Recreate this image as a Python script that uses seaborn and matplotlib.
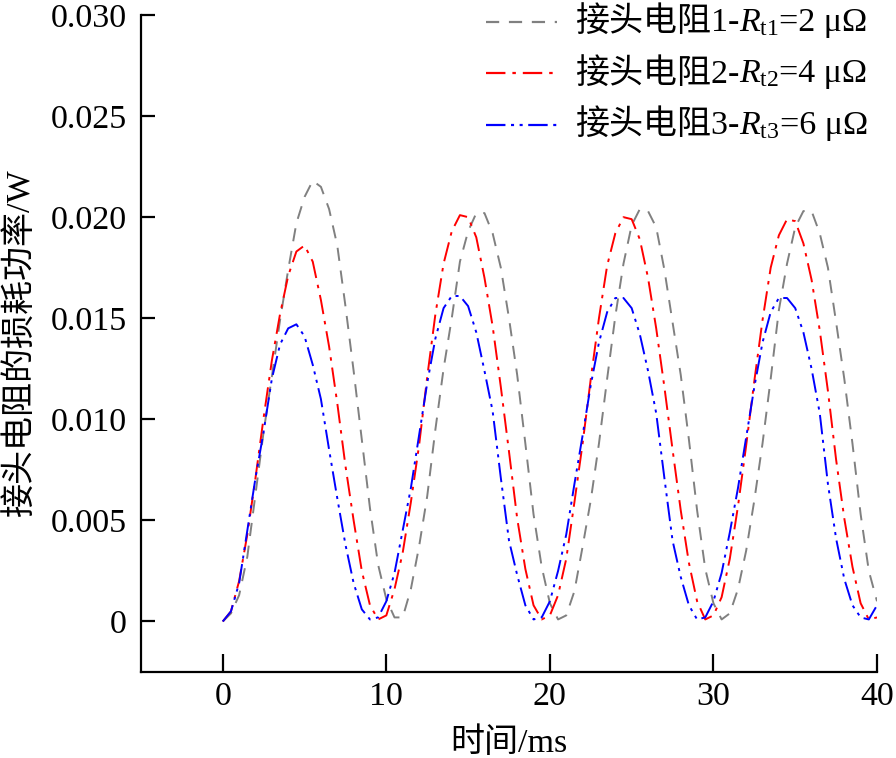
import matplotlib
matplotlib.use("Agg")
import matplotlib.pyplot as plt
import seaborn as sns
import pandas as pd
from matplotlib.lines import Line2D
from matplotlib.offsetbox import (AnchoredOffsetbox, DrawingArea, HPacker,
                                  TextArea, VPacker)

# ---------------- data ----------------
time_ms = [0.0, 0.5, 1.0, 1.5, 2.0, 2.5, 3.0, 3.5, 4.0, 4.5,
           5.0, 5.5, 6.0, 6.5, 7.0, 7.5, 8.0, 8.5, 9.0, 9.5,
           10.0, 10.5, 11.0, 11.5, 12.0, 12.5, 13.0, 13.5, 14.0, 14.5,
           15.0, 15.5, 16.0, 16.5, 17.0, 17.5, 18.0, 18.5, 19.0, 19.5,
           20.0, 20.5, 21.0, 21.5, 22.0, 22.5, 23.0, 23.5, 24.0, 24.5,
           25.0, 25.5, 26.0, 26.5, 27.0, 27.5, 28.0, 28.5, 29.0, 29.5,
           30.0, 30.5, 31.0, 31.5, 32.0, 32.5, 33.0, 33.5, 34.0, 34.5,
           35.0, 35.5, 36.0, 36.5, 37.0, 37.5, 38.0, 38.5, 39.0, 39.5,
           40.0]

p_rt1 = [0.0000, 0.0004, 0.0013, 0.0032, 0.0063, 0.0094, 0.0121, 0.0149, 0.0174, 0.0197,
         0.0210, 0.0218, 0.0215, 0.0204, 0.0186, 0.0156, 0.0124, 0.0090, 0.0056, 0.0028,
         0.0011, 0.0002, 0.0002, 0.0016, 0.0037, 0.0062, 0.0095, 0.0125, 0.0150, 0.0178,
         0.0193, 0.0202, 0.0202, 0.0192, 0.0175, 0.0150, 0.0122, 0.0088, 0.0053, 0.0027,
         0.0009, 0.0001, 0.0003, 0.0015, 0.0037, 0.0060, 0.0088, 0.0120, 0.0151, 0.0177,
         0.0196, 0.0204, 0.0203, 0.0195, 0.0174, 0.0148, 0.0122, 0.0090, 0.0055, 0.0026,
         0.0009, 0.0001, 0.0004, 0.0016, 0.0035, 0.0060, 0.0088, 0.0120, 0.0154, 0.0177,
         0.0195, 0.0203, 0.0203, 0.0192, 0.0175, 0.0148, 0.0120, 0.0088, 0.0053, 0.0025,
         0.0010]

p_rt2 = [0.0000, 0.0005, 0.0020, 0.0043, 0.0071, 0.0101, 0.0129, 0.0152, 0.0171, 0.0183,
         0.0186, 0.0178, 0.0159, 0.0136, 0.0108, 0.0077, 0.0050, 0.0025, 0.0008, 0.0001,
         0.0003, 0.0016, 0.0034, 0.0059, 0.0087, 0.0121, 0.0152, 0.0177, 0.0193, 0.0201,
         0.0200, 0.0190, 0.0170, 0.0146, 0.0116, 0.0084, 0.0051, 0.0026, 0.0008, 0.0001,
         0.0003, 0.0013, 0.0031, 0.0059, 0.0088, 0.0120, 0.0150, 0.0176, 0.0192, 0.0200,
         0.0199, 0.0189, 0.0170, 0.0145, 0.0116, 0.0085, 0.0055, 0.0029, 0.0010, 0.0001,
         0.0003, 0.0012, 0.0031, 0.0057, 0.0087, 0.0119, 0.0149, 0.0175, 0.0191, 0.0199,
         0.0198, 0.0187, 0.0169, 0.0144, 0.0114, 0.0080, 0.0051, 0.0027, 0.0009, 0.0001,
         0.0002]

p_rt3 = [0.0000, 0.0005, 0.0019, 0.0045, 0.0071, 0.0094, 0.0120, 0.0137, 0.0145, 0.0147,
         0.0141, 0.0127, 0.0110, 0.0085, 0.0061, 0.0038, 0.0019, 0.0006, 0.0001, 0.0002,
         0.0010, 0.0024, 0.0045, 0.0066, 0.0092, 0.0118, 0.0140, 0.0155, 0.0161, 0.0161,
         0.0156, 0.0143, 0.0124, 0.0104, 0.0071, 0.0040, 0.0023, 0.0008, 0.0001, 0.0002,
         0.0010, 0.0025, 0.0043, 0.0068, 0.0092, 0.0117, 0.0138, 0.0153, 0.0160, 0.0160,
         0.0155, 0.0142, 0.0124, 0.0103, 0.0071, 0.0040, 0.0022, 0.0008, 0.0001, 0.0002,
         0.0010, 0.0024, 0.0044, 0.0066, 0.0091, 0.0116, 0.0138, 0.0153, 0.0160, 0.0160,
         0.0155, 0.0143, 0.0125, 0.0103, 0.0068, 0.0041, 0.0021, 0.0008, 0.0002, 0.0001,
         0.0008]

# legend label pieces: prefix (CJK), resistance symbol, value
label_prefix = ["接头电阻1-", "接头电阻2-", "接头电阻3-"]
label_symbol = [r"$R_{\mathrm{t1}}$", r"$R_{\mathrm{t2}}$", r"$R_{\mathrm{t3}}$"]
label_value = ["=2 μΩ", "=4 μΩ", "=6 μΩ"]
series_names = ["Rt1", "Rt2", "Rt3"]
x_ticks = [0, 10, 20, 30, 40]
y_ticks = [0, 0.005, 0.010, 0.015, 0.020, 0.025, 0.030]
y_tick_labels = ["0", "0.005", "0.010", "0.015", "0.020", "0.025", "0.030"]
x_label = "时间/ms"
y_label = "接头电阻的损耗功率/W"

# ---------------- styling ----------------
sns.set_theme(style="ticks")
FAMILY = ["Liberation Serif", "Noto Sans CJK SC", "DejaVu Sans"]
plt.rcParams["font.family"] = FAMILY
plt.rcParams["mathtext.fontset"] = "custom"
plt.rcParams["mathtext.rm"] = "Liberation Serif"
plt.rcParams["mathtext.it"] = "Liberation Serif:italic"
plt.rcParams["axes.unicode_minus"] = False
plt.rcParams["lines.scale_dashes"] = False

FS = 24.5
LW = 1.4
colors = ["#808080", "#ff0000", "#0000ff"]
styles = [(0, (9.5, 7.0)),
          (0, (14.0, 5.0, 2.5, 5.0)),
          (0, (14.0, 4.0, 2.2, 4.0, 2.2, 4.0))]

df = pd.DataFrame({"t": time_ms * 3,
                   "p": p_rt1 + p_rt2 + p_rt3,
                   "series": [series_names[0]] * len(time_ms)
                   + [series_names[1]] * len(time_ms)
                   + [series_names[2]] * len(time_ms)})

fig = plt.figure(figsize=(8.96, 7.58), dpi=100)
ax = fig.add_axes([141 / 896, 1 - 672 / 758, (877 - 141) / 896, (672 - 15) / 758])

for name, col, ls in zip(series_names, colors, styles):
    sub = df[df["series"] == name]
    sns.lineplot(data=sub, x="t", y="p", color=col, linestyle=ls,
                 linewidth=LW, ax=ax, legend=False)

ax.set_xlim(-5, 40)
ax.set_ylim(-0.0025, 0.030)
ax.set_xticks(x_ticks)
ax.set_xticklabels([str(v) for v in x_ticks])
ax.set_yticks(y_ticks)
ax.set_yticklabels(y_tick_labels)

for s in ["top", "right"]:
    ax.spines[s].set_visible(False)
for s in ["left", "bottom"]:
    ax.spines[s].set_linewidth(1.6)
    ax.spines[s].set_color("black")

ax.tick_params(axis="both", direction="in", width=1.6, colors="black",
               labelsize=FS, labelcolor="black")
ax.tick_params(axis="y", length=10, pad=10)
ax.tick_params(axis="x", length=13, pad=7)

ax.set_xlabel(x_label, fontsize=FS, color="black", labelpad=11)
ax.set_ylabel(y_label, fontsize=FS, color="black", labelpad=10)

# ---------------- legend (built from offset boxes so CJK + math mix) ----------------
tp = dict(fontsize=FS, family=FAMILY, color="black")
rows = []
for pre, sym, val, col, ls in zip(label_prefix, label_symbol, label_value, colors, styles):
    da = DrawingArea(51, 10, 0, 0)
    da.add_artist(Line2D([0, 51], [5, 5], color=col, linestyle=ls, linewidth=1.6))
    txt = HPacker(children=[TextArea(pre, textprops=tp),
                            TextArea(sym, textprops=tp),
                            TextArea(val, textprops=tp)],
                  align="baseline", pad=0, sep=0)
    rows.append(HPacker(children=[da, txt], align="center", pad=0, sep=13))
box = VPacker(children=rows, align="left", pad=0, sep=14)
anch = AnchoredOffsetbox(loc="upper right", child=box, pad=0, borderpad=0,
                         frameon=False, bbox_to_anchor=(868 / 896, 1 - 6 / 758),
                         bbox_transform=fig.transFigure)
ax.add_artist(anch)

fig.savefig("out.png", dpi=100)
